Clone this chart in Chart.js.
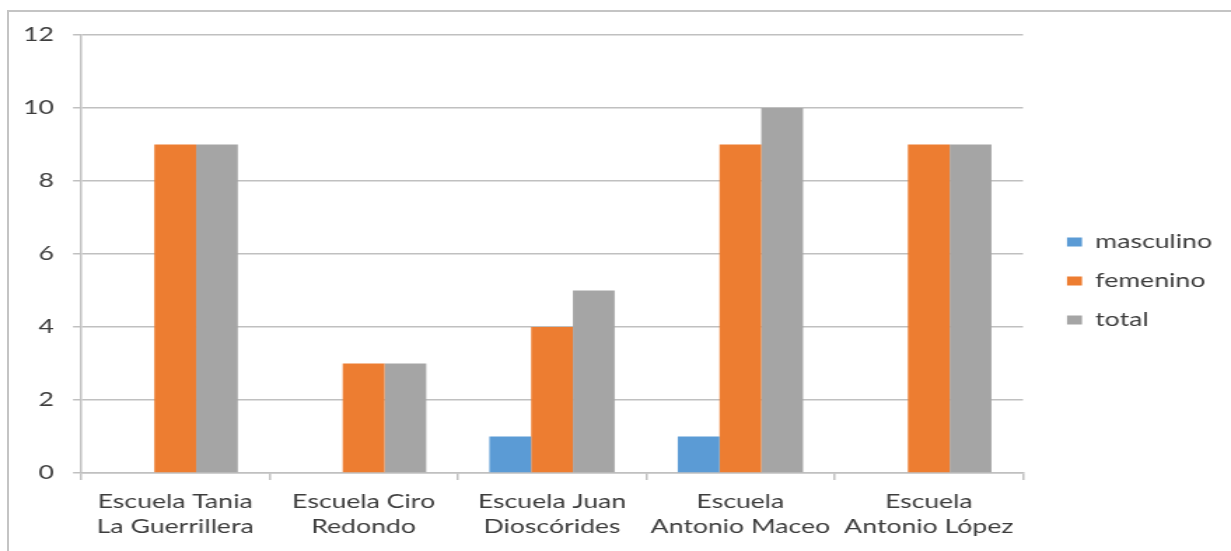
<!DOCTYPE html>
<html>
<head>
<meta charset="utf-8">
<script src="https://cdn.jsdelivr.net/npm/chart.js@4/dist/chart.umd.min.js"></script>
<style>
  html, body { margin: 0; padding: 0; width: 1231px; height: 551px; overflow: hidden; background: #ffffff; }
  #frame { position: absolute; left: 7px; top: 10px; width: 1300px; height: 600px; border: 2px solid #c4c4c4; box-sizing: border-box; }
  #wrap { position: absolute; left: 0; top: 0; transform-origin: 0 0; }
  canvas { display: block; }
</style>
</head>
<body>
<div id="frame"></div>
<div id="wrap"><canvas id="c" width="879" height="551"></canvas></div>
<script>
// ---- data ----
const categories = [
  ["Escuela Tania", "La Guerrillera"],
  ["Escuela Ciro", "Redondo"],
  ["Escuela Juan", "Dioscórides"],
  ["Escuela", "Antonio Maceo"],
  ["Escuela", "Antonio López"]
];
const seriesNames = ["masculino", "femenino", "total"];
const masculino = [0, 0, 1, 1, 0];
const femenino = [9, 3, 4, 9, 9];
const total = [9, 3, 5, 10, 9];
const yTicks = [0, 2, 4, 6, 8, 10, 12];

// ---- layout (screen px), converted to the horizontally-stretched canvas space ----
const SCREEN_W = 1231;
const CANVAS_W = 879;
const S = SCREEN_W / CANVAS_W;
document.getElementById('wrap').style.transform = 'scaleX(' + S + ')';

const PLOT_LEFT = 81, PLOT_RIGHT = 1023, PLOT_TOP = 35, PLOT_BOTTOM = 473, H = 551;
const LEGEND_BOX_X = 1067;
const LEGEND_FIRST_Y = 242;
const LEG_FONT = 19, LEG_PAD = 39 - LEG_FONT;
const FONT_SIZE = 19;

const textColor = '#3d3d3d';
const gridColor = '#c0c0c0';
const fontFamily = 'Lato, "Open Sans", "Liberation Sans", sans-serif';

const legendPlace = {
  id: 'legendPlace',
  beforeUpdate(chart) {
    const lg = chart.legend;
    if (lg && !lg._patched) {
      const origFit = lg.fit;
      lg.fit = function () {
        origFit.call(this);
        this.width = CANVAS_W - PLOT_RIGHT / S;
      };
      lg._patched = true;
    }
  },
  afterLayout(chart) {
    const lg = chart.legend;
    if (!lg) return;
    const newLeft = LEGEND_BOX_X / S - LEG_PAD;
    const w = lg.right - lg.left;
    lg.left = newLeft; lg.right = newLeft + w;
    const top = LEGEND_FIRST_Y - LEG_FONT / 2 - LEG_PAD;
    lg.top = top; lg.bottom = top + 200;
  }
};

new Chart(document.getElementById('c'), {
  type: 'bar',
  data: {
    labels: categories,
    datasets: [
      { label: seriesNames[0], data: masculino, backgroundColor: '#5B9BD5' },
      { label: seriesNames[1], data: femenino, backgroundColor: '#ED7D31' },
      { label: seriesNames[2], data: total, backgroundColor: '#A5A5A5' }
    ]
  },
  options: {
    responsive: false,
    maintainAspectRatio: false,
    animation: false,
    events: [],
    layout: { padding: { left: 0, right: 0, top: PLOT_TOP, bottom: 0 } },
    datasets: { bar: { barPercentage: 1, categoryPercentage: 0.665, borderWidth: 0 } },
    plugins: {
      tooltip: { enabled: false },
      title: { display: false },
      legend: {
        display: true,
        position: 'right',
        align: 'start',
        labels: {
          color: textColor,
          font: { family: fontFamily, size: LEG_FONT },
          boxWidth: 15 / S,
          boxHeight: 9,
          padding: LEG_PAD
        }
      }
    },
    scales: {
      x: {
        offset: true,
        grid: { display: true, drawOnChartArea: false, drawTicks: true, tickLength: 7, color: gridColor, lineWidth: 1.5 },
        border: { display: true, color: gridColor, width: 1.5 },
        ticks: {
          color: textColor,
          font: { family: fontFamily, size: FONT_SIZE, lineHeight: 25 / FONT_SIZE },
          padding: 9,
          maxRotation: 0,
          autoSkip: false
        },
        afterFit(scale) { scale.height = H - PLOT_BOTTOM; }
      },
      y: {
        min: 0,
        max: 12,
        afterBuildTicks(scale) { scale.ticks = yTicks.map(v => ({ value: v })); },
        grid: { color: gridColor, lineWidth: 1.5, drawTicks: true, tickLength: 8 / S },
        border: { display: true, color: gridColor, width: 1.5 },
        ticks: {
          color: textColor,
          font: { family: fontFamily, size: FONT_SIZE },
          padding: 19 / S
        },
        afterFit(scale) { scale.width = PLOT_LEFT / S; }
      }
    }
  },
  plugins: [legendPlace]
});
</script>
</body>
</html>
